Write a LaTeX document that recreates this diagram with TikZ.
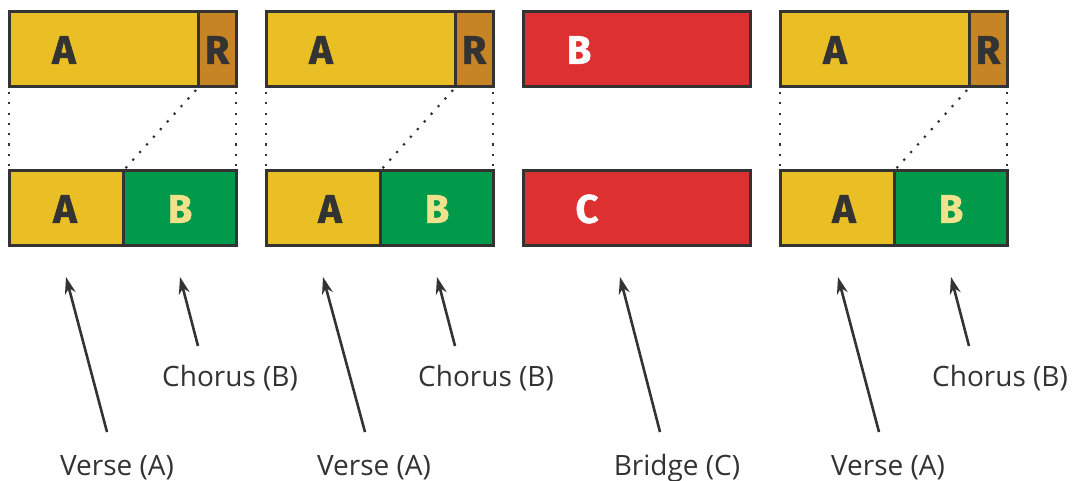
\documentclass[tikz,border=0pt]{standalone}
\usepackage{fontspec}
\setmainfont{Open Sans}
\newfontfamily\letterfont{Fira Sans}[UprightFont=* Bold, FakeBold=1.2]
\usetikzlibrary{arrows.meta}
\definecolor{cyel}{HTML}{E9BF25}
\definecolor{cbrown}{HTML}{C78425}
\definecolor{cgreen}{HTML}{019A4B}
\definecolor{cred}{HTML}{DD3030}
\definecolor{cline}{HTML}{333333}
\definecolor{cpale}{HTML}{F0E28C}
\tikzset{
  seg/.style={draw=cline, line width=3pt},
  big/.style={font=\letterfont\fontsize{40}{40}\selectfont, inner sep=0pt, anchor=center},
  lab/.style={font=\fontsize{28}{28}\selectfont, text=cline, inner sep=0pt, anchor=base},
  dots/.style={draw=cline, line width=2.2pt, dash pattern=on 2.2pt off 8.1pt},
  arr/.style={draw=cline, line width=2.6pt, -{Stealth[length=17pt,width=11pt]}}
}
\begin{document}
\begin{tikzpicture}[x=1pt,y=-1pt]
\useasboundingbox (0,0) rectangle (1074,481);
% group boxes (offsets 0, 257, 771)
\foreach \o in {0,257,771}{
  \path[fill=cyel] (9+\o,12) rectangle (198+\o,87);
  \path[fill=cbrown] (198+\o,12) rectangle (236+\o,87);
  \draw[seg] (9+\o,12) rectangle (236+\o,87);
  \draw[seg] (198+\o,12) -- (198+\o,87);
  \path[fill=cyel] (9+\o,171) rectangle (123+\o,246);
  \path[fill=cgreen] (123+\o,171) rectangle (236+\o,246);
  \draw[seg] (9+\o,171) rectangle (236+\o,246);
  \draw[seg] (123+\o,171) -- (123+\o,246);
  \draw[dots] (9+\o,92) -- (9+\o,171);
  \draw[dots] (236+\o,92) -- (236+\o,171);
  \draw[dots] (196+\o,90) -- (123+\o,171);
  \node[big, text=cline] at (64+\o,50) {A};
  \node[big, text=cline] at (217+\o,50) {R};
  \node[big, text=cpale] at (180+\o,209) {B};
}
\node[big, text=cline] (a1) at (65,209) {A};
\node[big, text=cline] (a2) at (330,209) {A};
\node[big, text=cline] (a4) at (844,209) {A};
% group 3
\draw[seg, fill=cred] (523,12) rectangle (750,87);
\draw[seg, fill=cred] (523,171) rectangle (750,246);
\node[big, text=white] (b3) at (579,50) {B};
\node[big, text=white] (c3) at (587,209) {C};
% labels
\node[lab] (v1) at (117,475) {Verse (A)};
\node[lab] (c1) at (230,386) {Chorus (B)};
\node[lab] (v2) at (374,475) {Verse (A)};
\node[lab] (c2) at (486,386) {Chorus (B)};
\node[lab] (br) at (677,475) {Bridge (C)};
\node[lab] (v4) at (888,475) {Verse (A)};
\node[lab] (c4) at (1000,386) {Chorus (B)};
% arrows
\foreach \s/\t in {{107,432}/{66,277},{198,346}/{180,277},{365,432}/{323,277},{455,346}/{437,277},{660,432}/{620,277},{879,432}/{838,277},{969,346}/{951,277}}{
  \coordinate (s) at (\s); \coordinate (t) at (\t);
  \draw[arr] (s) -- (t);
}
\end{tikzpicture}
\end{document}
